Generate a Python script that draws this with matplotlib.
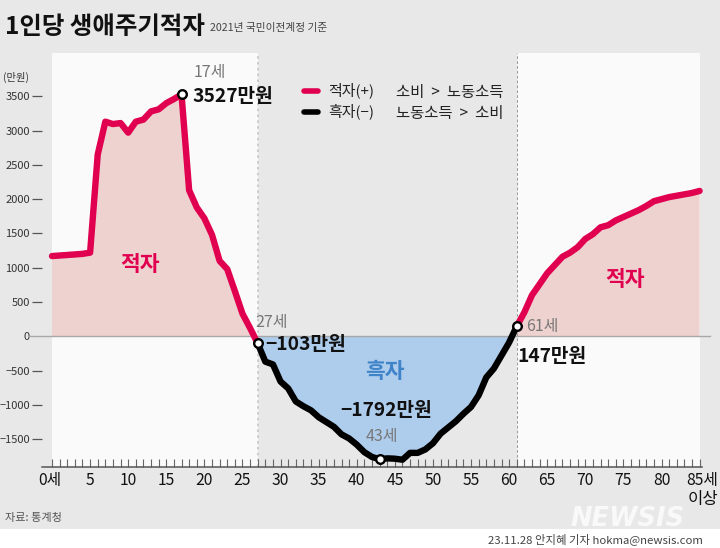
import numpy as np
import matplotlib
matplotlib.use("Agg")
from matplotlib import pyplot as plt
from matplotlib.transforms import ScaledTranslation

plt.rcParams['font.family'] = ['Noto Sans CJK KR', 'DejaVu Sans']

W, H = 720, 548
GRAY_BG = '#e8e8e8'
PANEL = '#fafafa'
RED = '#e0004f'
PINK = '#eed2cf'
BLUE = '#aecdec'

ages = list(range(86))
deficit = [1170, 1178, 1186, 1194, 1202, 1220, 2650, 3130, 3095, 3110, 2970, 3130, 3160, 3280, 3310, 3400, 3460, 3527,
           2130, 1880, 1720, 1480, 1100, 980, 660, 330, 120, -103, -370, -410, -660, -760, -950, -1020, -1080, -1180,
           -1250, -1320, -1430, -1490, -1580, -1690, -1760, -1792, -1780, -1785, -1800, -1700, -1700, -1650, -1560,
           -1420, -1330, -1240, -1130, -1030, -860, -600, -470, -280, -90, 147, 350, 600, 760, 920, 1040, 1160, 1220,
           1300, 1420, 1490, 1590, 1620, 1690, 1740, 1790, 1840, 1900, 1970, 2000, 2030, 2050, 2070, 2090, 2120]
y_ticks = [3500, 3000, 2500, 2000, 1500, 1000, 500, 0, -500, -1000, -1500]
y_labels = ['3500', '3000', '2500', '2000', '1500', '1000', '500', '0', '−500', '−1000', '−1500']
x_ticks = list(range(0, 90, 5))
x_labels = ['0세'] + [str(a) for a in x_ticks[1:-1]] + ['85세']
turn_ages = [17, 27, 43, 61]


def px_text(x, y, s, size, color='#111111', ha='left', weight='normal', **kw):
    return fig.text(x / W, 1 - y / H, s, fontsize=size, color=color, ha=ha, va='center', weight=weight, **kw)


fig = plt.figure(figsize=(W / 100, H / 100), dpi=100, facecolor='white')
bg = fig.add_axes([0, 1 - 529 / H, 1, 529 / H], facecolor=GRAY_BG)
bg.axis('off')
bg.add_patch(plt.Rectangle((0, 0), 1, 1, color=GRAY_BG, transform=bg.transAxes))

ax_left, ax_right, ax_top, ax_bottom = 52, 699.6, 53, 467
ax = fig.add_axes([ax_left / W, 1 - ax_bottom / H, (ax_right - ax_left) / W, (ax_bottom - ax_top) / H])
ax.patch.set_alpha(0)
ax.set_xlim(0, 85)
per_px = 3500 / 240
ax.set_ylim((336.3 - ax_bottom) * per_px, (336.3 - ax_top) * per_px)

vals = np.array(deficit, dtype=float)
ax.axvspan(0, 27, color=PANEL, lw=0, zorder=0)
ax.axvspan(61, 85, color=PANEL, lw=0, zorder=0)
ax.fill_between(ages, vals, 0, where=vals >= 0, interpolate=True, color=PINK, lw=0, zorder=1)
ax.fill_between(ages, vals, 0, where=vals <= 0, interpolate=True, color=BLUE, lw=0, zorder=1)

ax.axvline(27, color='#c4c4c4', lw=1.2, ls=(0, (1.5, 2)), zorder=1.5)
ax.axvline(61, color='#9a9a9a', lw=0.7, ls=(0, (3, 2)), zorder=1.5)
ax.plot([-3, 86.3], [0, 0], color='#a8a8a8', lw=1, clip_on=False, zorder=2)
ax.plot([-1.3, 85.3], [ax.get_ylim()[0]] * 2, color='#555555', lw=1.1, clip_on=False, zorder=2)

line_kw = dict(lw=4.6, clip_on=False, zorder=3, solid_capstyle='round', solid_joinstyle='round')
ax.plot(ages[:28], deficit[:28], color=RED, **line_kw)
ax.plot(ages[61:], deficit[61:], color=RED, **line_kw)
ax.plot(ages[27:62], deficit[27:62], color='black', **line_kw)
ax.plot(turn_ages, [deficit[a] for a in turn_ages], ls='none', marker='o', ms=6.2, mfc='white', mec='black', mew=1.7,
        clip_on=False, zorder=4)

for s in ax.spines.values():
    s.set_visible(False)
ax.spines['left'].set_position(('outward', 7.2))
ax.set_yticks(y_ticks, y_labels, fontsize=8, color='#333333')
ax.tick_params(axis='y', length=7.2, width=0.9, color='#555555', pad=1.5)
ax.yaxis.get_major_ticks()[y_ticks.index(0)].tick1line.set_visible(False)
ax.set_xticks(x_ticks, x_labels, fontsize=11.3, color='#111111')
ax.set_xticks(ages, minor=True)
ax.tick_params(axis='x', which='both', direction='in', length=5.5, width=0.8, color='#666666', pad=3.5)
tick_labels = ax.get_xticklabels()
tick_labels[0].set_transform(tick_labels[0].get_transform() + ScaledTranslation(-2 / 100, 0, fig.dpi_scale_trans))
tick_labels[-1].set_transform(tick_labels[-1].get_transform() + ScaledTranslation(3 / 100, 0, fig.dpi_scale_trans))

# title
px_text(5, 27, '1인당 생애주기적자', 17.6, weight='bold')
px_text(210, 28, '2021년 국민이전계정 기준', 7.7, color='#444444')
px_text(3, 77, '(만원)', 7.4, color='#333333')

# legend
for y, c, a, b in [(91, RED, '적자(+)', '소비  >  노동소득'), (112, 'black', '흑자(−)', '노동소득  >  소비')]:
    fig.add_artist(plt.Line2D([304 / W, 318 / W], [1 - y / H] * 2, color=c, lw=4, solid_capstyle='round'))
    px_text(328, y - 0.5, a, 10.8, color='#222222')
    px_text(396, y + 1.5, b, 11.1, color='#222222')

# point labels
px_text(194, 72, '17세', 11.5, color='#777777')
px_text(192, 97, '3527만원', 13.8, weight='bold')
px_text(255, 323, '27세', 11.5, color='#777777')
px_text(265, 344, '−103만원', 13.8, weight='bold')
px_text(526, 327, '61세', 11.5, color='#777777')
px_text(517, 356, '147만원', 13.8, weight='bold')
px_text(340, 411, '−1792만원', 13.8, weight='bold')
px_text(366, 436, '43세', 11.5, color='#777777')

# area labels
px_text(140, 264, '적자', 15.5, color=RED, ha='center', weight='bold')
px_text(625, 279, '적자', 15.5, color=RED, ha='center', weight='bold')
px_text(385, 371, '흑자', 15.5, color='#3f83c9', ha='center', weight='bold')

px_text(718, 499.5, '이상', 12, ha='right')
px_text(5, 518, '자료: 통계청', 8, color='#555555')
px_text(703, 539, '23.11.28 안지혜 기자 hokma@newsis.com', 8.2, color='#444444', ha='right')
px_text(570, 519, 'NEWSIS', 18.5, color='white', weight='bold', style='italic', family='DejaVu Sans', alpha=0.75)

fig.savefig('out.png', dpi=100, facecolor='white')
